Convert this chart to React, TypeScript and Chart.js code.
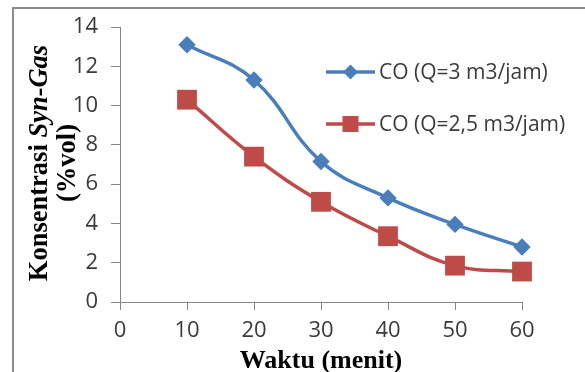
import React, { useEffect, useRef } from "react";
import { Chart, registerables } from "chart.js";

Chart.register(...registerables);

// ---- data ----
const timeMinutes = [10, 20, 30, 40, 50, 60];
const coQ3 = [13.1, 11.3, 7.15, 5.3, 3.95, 2.8];
const coQ25 = [10.3, 7.4, 5.1, 3.35, 1.85, 1.55];
const seriesLabels = ["CO (Q=3 m3/jam)", "CO (Q=2,5 m3/jam)"];
const xTitle = "Waktu (menit)";
const yTitleMain = "Konsentrasi ";
const yTitleItalic = "Syn-Gas";
const yTitleLine2 = "(%vol)";

const BLUE = "#4A7EBB";
const RED = "#BE4B48";
const AXIS = "#868686";
const TEXT = "#3a3a3a";

function drawMarker(ctx: CanvasRenderingContext2D, style: string, x: number, y: number, r: number, color: string) {
  ctx.save();
  ctx.fillStyle = color;
  ctx.beginPath();
  if (style === "rectRot") {
    ctx.moveTo(x, y - r);
    ctx.lineTo(x + r, y);
    ctx.lineTo(x, y + r);
    ctx.lineTo(x - r, y);
    ctx.closePath();
  } else {
    ctx.rect(x - r, y - r, 2 * r, 2 * r);
  }
  ctx.fill();
  ctx.restore();
}

const framePlugin = {
  id: "frame",
  beforeDraw(chart: any) {
    const ctx = chart.ctx as CanvasRenderingContext2D;
    ctx.save();
    ctx.fillStyle = "#ffffff";
    ctx.fillRect(0, 0, chart.width, chart.height);
    ctx.strokeStyle = "#8c8c8c";
    ctx.lineWidth = 2;
    ctx.strokeRect(13, 8, 700, 500);
    ctx.restore();
  },
};

const titlesPlugin = {
  id: "titles",
  afterDraw(chart: any) {
    const ctx = chart.ctx as CanvasRenderingContext2D;
    const area = chart.chartArea;
    ctx.save();
    ctx.fillStyle = "#000000";
    // x title
    ctx.font = "bold 26px 'Liberation Serif', 'Times New Roman', serif";
    ctx.textAlign = "center";
    ctx.textBaseline = "alphabetic";
    ctx.fillText(xTitle, (area.left + area.right) / 2, 368);

    // y title (rotated, mixed fonts)
    const fontN = "bold 26.5px 'Liberation Serif', 'Times New Roman', serif";
    const fontI = "italic bold 26.5px 'Liberation Serif', 'Times New Roman', serif";
    ctx.font = fontN;
    const w1 = ctx.measureText(yTitleMain).width;
    ctx.font = fontI;
    const w2 = ctx.measureText(yTitleItalic).width;
    const cy = (area.top + area.bottom) / 2 - 1.5;
    ctx.translate(47, cy);
    ctx.rotate(-Math.PI / 2);
    ctx.textAlign = "left";
    const start = -(w1 + w2) / 2;
    ctx.font = fontN;
    ctx.fillText(yTitleMain, start, 0);
    ctx.font = fontI;
    ctx.fillText(yTitleItalic, start + w1, 0);
    ctx.font = fontN;
    ctx.textAlign = "center";
    ctx.fillText(yTitleLine2, 0, 28);
    ctx.restore();
  },
};

const legendPlugin = {
  id: "customLegend",
  afterDraw(chart: any) {
    const ctx = chart.ctx as CanvasRenderingContext2D;
    const rows = [72, 124];
    chart.data.datasets.forEach((ds: any, i: number) => {
      const y = rows[i];
      ctx.save();
      ctx.strokeStyle = ds.borderColor;
      ctx.lineWidth = 3.5;
      ctx.beginPath();
      ctx.moveTo(326, y);
      ctx.lineTo(375, y);
      ctx.stroke();
      drawMarker(ctx, ds.pointStyle, 350.5, y, ds.pointStyle === "rectRot" ? 7.5 : 8, ds.borderColor);
      ctx.fillStyle = TEXT;
      ctx.font = "21px 'Open Sans', sans-serif";
      ctx.textAlign = "left";
      ctx.textBaseline = "middle";
      ctx.fillText(ds.label, 379, y + 1);
      ctx.restore();
    });
  },
};

export default function App() {
  const canvasRef = useRef<HTMLCanvasElement | null>(null);

  useEffect(() => {
    if (!canvasRef.current) return;
    const tickFont = { family: "'Open Sans', sans-serif", size: 22 };
    const chart = new Chart(canvasRef.current, {
      type: "line",
      data: {
        datasets: [
          {
            label: seriesLabels[0],
            data: timeMinutes.map((x, i) => ({ x, y: coQ3[i] })),
            borderColor: BLUE,
            backgroundColor: BLUE,
            borderWidth: 3.5,
            pointStyle: "rectRot",
            pointRadius: 8.7,
            pointBorderWidth: 0,
            tension: 0.42,
            clip: false as any,
          },
          {
            label: seriesLabels[1],
            data: timeMinutes.map((x, i) => ({ x, y: coQ25[i] })),
            borderColor: RED,
            backgroundColor: RED,
            borderWidth: 3.5,
            pointStyle: "rect",
            pointRadius: 14,
            pointBorderWidth: 0,
            tension: 0.42,
            clip: false as any,
          },
        ],
      },
      options: {
        responsive: false,
        animation: false,
        devicePixelRatio: 1,
        layout: { padding: { top: 27, right: 63, left: 0, bottom: 0 } },
        plugins: {
          legend: { display: false },
          tooltip: { enabled: false },
        },
        scales: {
          x: {
            type: "linear",
            min: 0,
            max: 60,
            ticks: { stepSize: 10, font: tickFont, color: TEXT, padding: 8 },
            grid: { drawOnChartArea: false, drawTicks: true, tickLength: 8, color: AXIS },
            border: { color: AXIS, width: 1 },
            afterFit: (s: any) => {
              s.height = 70;
            },
          },
          y: {
            type: "linear",
            min: 0,
            max: 14,
            ticks: { stepSize: 2, font: tickFont, color: TEXT, padding: 13 },
            grid: { drawOnChartArea: false, drawTicks: true, tickLength: 9, color: AXIS },
            border: { color: AXIS, width: 1 },
            afterFit: (s: any) => {
              s.width = 120;
            },
          },
        },
      },
      plugins: [framePlugin, titlesPlugin, legendPlugin],
    });
    return () => chart.destroy();
  }, []);

  return (
    <div style={{ position: "absolute", left: 0, top: 0, width: 585, height: 372 }}>
      <canvas ref={canvasRef} width={585} height={372} style={{ display: "block" }} />
    </div>
  );
}
